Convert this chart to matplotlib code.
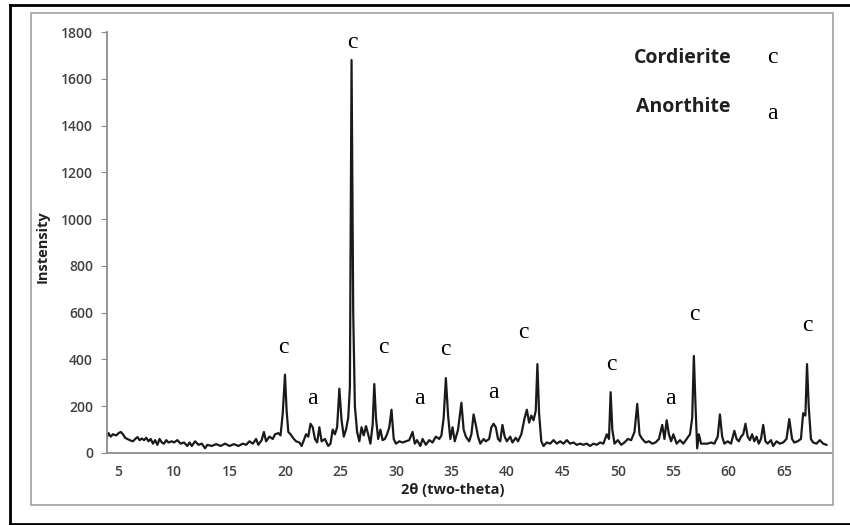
import matplotlib.pyplot as plt
from matplotlib.lines import Line2D
from matplotlib.patches import Rectangle

# XRD pattern (2-theta in degrees, counts)
two_theta = [3.8, 3.9, 4.1, 4.3, 4.5, 4.8, 5.0, 5.2, 5.4, 5.6, 5.8, 6.0, 6.3, 6.5, 6.7, 6.9,
             7.1, 7.3, 7.5, 7.7, 7.9, 8.1, 8.3, 8.5, 8.7, 8.9, 9.1, 9.3, 9.5, 9.8, 10.0, 10.3,
             10.6, 10.9, 11.2, 11.4, 11.6, 11.9, 12.2, 12.5, 12.8, 13.0, 13.4, 13.8, 14.2, 14.6,
             15.0, 15.4, 15.8, 16.2, 16.5, 16.8, 17.1, 17.4, 17.6, 17.9, 18.1, 18.3, 18.6, 18.9,
             19.1, 19.4, 19.6, 19.8, 20.0, 20.15, 20.3, 20.5, 20.8, 21.0, 21.3, 21.5, 21.7, 21.9,
             22.1, 22.3, 22.5, 22.7, 22.9, 23.1, 23.3, 23.6, 23.9, 24.1, 24.3, 24.5, 24.7, 24.9,
             25.1, 25.3, 25.5, 25.7, 25.85, 26.0, 26.15, 26.3, 26.5, 26.7, 26.9, 27.1, 27.3, 27.5,
             27.7, 27.9, 28.05, 28.2, 28.4, 28.6, 28.8, 29.0, 29.2, 29.4, 29.6, 29.8, 30.0, 30.3,
             30.6, 30.9, 31.2, 31.5, 31.7, 31.9, 32.2, 32.4, 32.7, 33.0, 33.3, 33.6, 33.9, 34.1,
             34.3, 34.5, 34.7, 34.9, 35.1, 35.3, 35.6, 35.9, 36.1, 36.3, 36.6, 36.8, 37.0, 37.2,
             37.4, 37.6, 37.9, 38.1, 38.4, 38.6, 38.8, 39.0, 39.2, 39.4, 39.6, 39.8, 40.0, 40.3,
             40.5, 40.8, 41.0, 41.3, 41.6, 41.8, 42.0, 42.2, 42.4, 42.6, 42.75, 42.9, 43.1, 43.3,
             43.6, 43.9, 44.2, 44.5, 44.8, 45.1, 45.4, 45.7, 46.0, 46.3, 46.6, 46.9, 47.2, 47.5,
             47.8, 48.1, 48.4, 48.7, 49.0, 49.2, 49.35, 49.5, 49.7, 50.0, 50.3, 50.6, 50.9, 51.2,
             51.5, 51.75, 51.95, 52.2, 52.5, 52.8, 53.1, 53.4, 53.7, 54.0, 54.2, 54.4, 54.6, 54.8,
             55.0, 55.3, 55.6, 55.9, 56.2, 56.5, 56.7, 56.85, 57.0, 57.15, 57.3, 57.5, 57.8, 58.1,
             58.4, 58.7, 59.0, 59.2, 59.4, 59.6, 59.9, 60.2, 60.5, 60.7, 60.9, 61.1, 61.3, 61.5,
             61.7, 61.9, 62.1, 62.3, 62.5, 62.7, 62.9, 63.1, 63.3, 63.5, 63.8, 64.0, 64.3, 64.6,
             64.9, 65.2, 65.45, 65.7, 65.9, 66.2, 66.5, 66.7, 66.9, 67.05, 67.2, 67.4, 67.6, 67.9,
             68.2, 68.5, 68.8]
intensity = [20, 60, 85, 70, 80, 75, 85, 90, 80, 65, 60, 55, 50, 60, 68, 55,
             62, 55, 65, 50, 60, 40, 55, 35, 60, 45, 40, 55, 45, 50, 45, 55,
             40, 45, 30, 45, 30, 50, 35, 40, 20, 35, 30, 38, 30, 40,
             30, 38, 30, 40, 35, 50, 40, 60, 35, 55, 90, 50, 70, 60,
             80, 85, 75, 170, 335, 180, 90, 80, 60, 50, 45, 30, 55, 80,
             70, 125, 110, 60, 45, 110, 50, 60, 30, 40, 100, 80, 110, 275,
             140, 70, 100, 150, 280, 1680, 600, 200, 90, 50, 110, 75, 115, 80,
             40, 120, 295, 150, 60, 100, 55, 60, 80, 110, 185, 60, 40, 50,
             45, 50, 55, 90, 40, 55, 30, 60, 35, 55, 45, 70, 60, 75,
             150, 320, 160, 60, 110, 50, 100, 215, 100, 70, 50, 80, 165, 120,
             70, 40, 60, 50, 60, 110, 125, 110, 60, 50, 120, 70, 50, 70,
             45, 65, 50, 80, 150, 185, 130, 160, 140, 180, 380, 170, 50, 30,
             45, 40, 55, 40, 50, 40, 55, 40, 45, 35, 40, 35, 40, 30,
             40, 35, 45, 40, 80, 60, 260, 100, 40, 55, 35, 45, 60, 55,
             90, 210, 80, 60, 45, 50, 40, 45, 60, 120, 60, 140, 80, 50,
             80, 40, 55, 40, 60, 80, 150, 415, 200, 20, 80, 40, 40, 40,
             45, 40, 70, 165, 70, 40, 50, 40, 95, 60, 50, 70, 80, 125,
             70, 55, 80, 50, 70, 40, 60, 120, 50, 40, 55, 30, 50, 40,
             45, 60, 145, 60, 45, 50, 60, 170, 160, 380, 200, 60, 45, 40,
             55, 40, 35]

# phase labels above the peaks
label_text = ['c', 'a', 'c', 'c', 'a', 'c', 'a', 'c', 'c', 'a', 'c', 'c']
label_x = [19.9, 22.5, 26.05, 28.9, 32.1, 34.5, 38.75, 41.5, 49.4, 54.7, 56.9, 67.1]
label_y = [449, 231, 1756, 449, 231, 444, 260, 517, 380, 231, 594, 547]

x_ticks = [5, 10, 15, 20, 25, 30, 35, 40, 45, 50, 55, 60, 65]
y_ticks = [0, 200, 400, 600, 800, 1000, 1200, 1400, 1600, 1800]

fig = plt.figure(figsize=(8.5, 5.25), dpi=100)

# outer black frame and gray chart border
fig.add_artist(Line2D([10/850, 10/850], [0, 1 - 5/525], transform=fig.transFigure, color='black', lw=2))
fig.add_artist(Line2D([10/850, 1], [1 - 5/525, 1 - 5/525], transform=fig.transFigure, color='black', lw=2))
fig.add_artist(Line2D([10/850, 1], [1/525, 1/525], transform=fig.transFigure, color='black', lw=2))
fig.add_artist(Rectangle((31/850, 1 - 505/525), (833 - 31)/850, (505 - 13)/525,
                         transform=fig.transFigure, fill=False, ec='#a0a0a0', lw=1.2))

ax = fig.add_axes([107/850, 1 - 453/525, 725/850, 421/525])
ax.plot(two_theta, intensity, color='#1a1a1a', lw=1.6)

ax.set_xlim(3.96, 69.3)
ax.set_ylim(0, 1800)
ax.set_xticks(x_ticks)
ax.set_yticks(y_ticks)
for s in ['top', 'right']:
    ax.spines[s].set_visible(False)
for s in ['left', 'bottom']:
    ax.spines[s].set_color('#8c8c8c')
    ax.spines[s].set_linewidth(1.3)
ax.tick_params(axis='x', length=0, pad=9, labelsize=10, labelcolor='#404040')
ax.tick_params(axis='y', length=4, color='#8c8c8c', pad=6, labelsize=10, labelcolor='#404040')
for lab in ax.get_xticklabels() + ax.get_yticklabels():
    lab.set_fontfamily('Open Sans')
    lab.set_fontweight('semibold')

fig.text(453/850, 1 - 490/525, '2θ (two-theta)', ha='center', va='center',
         fontsize=10.5, fontweight='bold', family='Open Sans', color='#202020')
fig.text(43/850, 1 - 247/525, 'Instensity', ha='center', va='center', rotation=90,
         fontsize=10.5, fontweight='bold', family='Open Sans', color='#202020')

for t, x, y in zip(label_text, label_x, label_y):
    ax.text(x, y, t, ha='center', va='center', fontsize=17, family='Liberation Serif')

ax.text(55.86, 1688, 'Cordierite', ha='center', va='center', fontsize=14,
        fontweight='bold', family='Open Sans', color='#202020')
ax.text(55.86, 1479, 'Anorthite', ha='center', va='center', fontsize=14,
        fontweight='bold', family='Open Sans', color='#202020')
ax.text(63.9, 1692, 'c', ha='center', va='center', fontsize=17, family='Liberation Serif')
ax.text(63.9, 1453, 'a', ha='center', va='center', fontsize=17, family='Liberation Serif')

fig.savefig('out.png', dpi=100)
